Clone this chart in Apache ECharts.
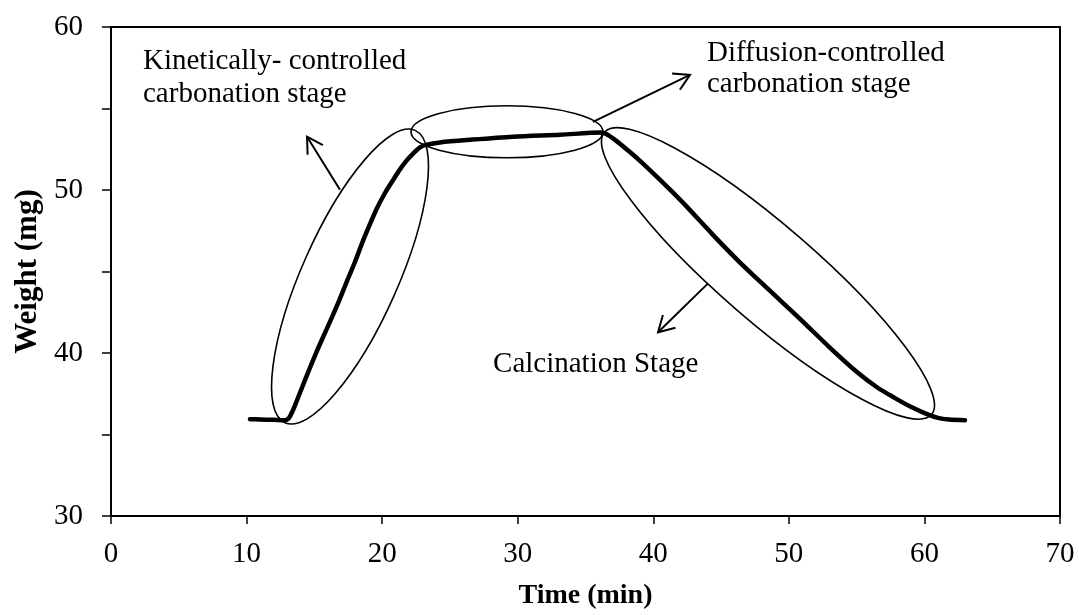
<!DOCTYPE html>
<html>
<head>
<meta charset="utf-8">
<script src="https://cdn.jsdelivr.net/npm/echarts@6/dist/echarts.min.js"></script>
<style>
  html, body { margin: 0; padding: 0; background: #fff; }
  #chart { width: 1079px; height: 615px; }
</style>
</head>
<body>
<div id="chart"></div>
<script>
// TGA run: sample weight during carbonation / calcination cycle
const timeMin = [10.25, 11.00, 12.00, 12.83, 13.10, 13.40, 13.72, 14.10, 14.53, 15.10,
                 15.71, 16.30, 16.82, 17.40, 18.00, 18.55, 19.10, 19.60, 20.20, 20.80,
                 21.30, 21.80, 22.30, 22.79, 23.30, 24.27, 26.48, 29.65, 33.12, 36.20,
                 36.70, 37.30, 38.10, 39.00, 40.00, 41.20, 42.50, 44.40, 46.40, 48.50,
                 50.82, 53.00, 55.00, 56.50, 57.80, 59.00, 60.19, 61.00, 61.80, 62.99];
const weightMg = [35.94, 35.92, 35.90, 35.88, 35.98, 36.45, 37.10, 37.90, 38.80, 39.95,
                  41.10, 42.20, 43.20, 44.40, 45.60, 46.80, 47.90, 48.85, 49.80, 50.60,
                  51.25, 51.80, 52.25, 52.62, 52.78, 52.92, 53.08, 53.27, 53.39, 53.52,
                  53.35, 53.00, 52.45, 51.80, 51.02, 50.05, 48.95, 47.25, 45.55, 43.90,
                  42.10, 40.35, 38.85, 37.90, 37.25, 36.70, 36.25, 36.02, 35.92, 35.88];

const xTicks = [0, 10, 20, 30, 40, 50, 60, 70];
const yLabels = [30, 40, 50, 60];

const SERIF = '"Liberation Serif", "Times New Roman", serif';

// stage outlines (centre in data units, radii in px, tilt in degrees)
const stageOvals = [
  { at: [17.63, 44.69], rx: 160, ry: 48, tilt: 66 },
  { at: [29.21, 53.57], rx: 96, ry: 26, tilt: 0 },
  { at: [48.46, 44.88], rx: 216, ry: 48, tilt: -40.8 }
];
// pointer arrows: tail -> tip, in data units
const stageArrows = [
  { from: [16.89, 50.02], to: [14.46, 53.27] },
  { from: [35.55, 54.18], to: [42.71, 57.06] },
  { from: [44.04, 44.27], to: [40.35, 41.27] }
];
// stage captions: left edge / vertical middle of each line, data units
const stageNotes = [
  { at: [2.36, 57.86], text: 'Kinetically- controlled' },
  { at: [2.36, 55.88], text: 'carbonation stage' },
  { at: [43.96, 58.41], text: 'Diffusion-controlled' },
  { at: [43.96, 56.45], text: 'carbonation stage' },
  { at: [28.18, 39.30], text: 'Calcination Stage' }
];

const chart = echarts.init(document.getElementById('chart'), null, { renderer: 'canvas' });

const option = {
  animation: false,
  backgroundColor: '#fff',
  grid: {
    left: 111, right: 19, top: 27, bottom: 98,
    show: true, borderColor: '#000', borderWidth: 2, backgroundColor: 'transparent'
  },
  xAxis: {
    type: 'value', min: xTicks[0], max: xTicks[xTicks.length - 1], interval: 10,
    name: 'Time (min)', nameLocation: 'middle', nameGap: 66,
    nameTextStyle: { fontFamily: SERIF, fontSize: 28, fontWeight: 'bold', color: '#000' },
    axisLine: { show: true, onZero: false, lineStyle: { color: '#000', width: 2 } },
    axisTick: { show: true, inside: false, length: 8, lineStyle: { color: '#000', width: 1.5 } },
    axisLabel: { margin: 24, fontFamily: SERIF, fontSize: 29, color: '#000' },
    splitLine: { show: false }
  },
  yAxis: {
    type: 'value', min: yLabels[0], max: yLabels[yLabels.length - 1], interval: 5,
    name: 'Weight (mg)', nameLocation: 'middle', nameGap: 68, nameRotate: 90,
    nameTextStyle: { fontFamily: SERIF, fontSize: 31, fontWeight: 'bold', color: '#000' },
    axisLine: { show: true, onZero: false, lineStyle: { color: '#000', width: 2 } },
    axisTick: { show: true, inside: false, length: 9, lineStyle: { color: '#000', width: 1.5 } },
    axisLabel: {
      margin: 28, fontFamily: SERIF, fontSize: 29, color: '#000',
      formatter: v => (yLabels.indexOf(v) >= 0 ? String(v) : '')
    },
    splitLine: { show: false }
  },
  series: [{
    type: 'line',
    data: timeMin.map((t, i) => [t, weightMg[i]]),
    smooth: 0.3,
    showSymbol: false,
    lineStyle: { color: '#000', width: 4.5, cap: 'round', join: 'round' },
    z: 5
  }]
};

chart.setOption(option);

function toPx(p) { return chart.convertToPixel({ gridIndex: 0 }, p); }

const graphics = [];
stageOvals.forEach(o => {
  const c = toPx(o.at);
  graphics.push({
    type: 'ellipse', x: c[0], y: c[1], rotation: o.tilt * Math.PI / 180,
    shape: { cx: 0, cy: 0, rx: o.rx, ry: o.ry },
    style: { fill: null, stroke: '#000', lineWidth: 1.6 }, z: 10
  });
});
stageArrows.forEach(a => {
  const p0 = toPx(a.from), p1 = toPx(a.to);
  const ang = Math.atan2(p0[1] - p1[1], p0[0] - p1[0]);
  const len = 18, spread = Math.PI / 6;
  const h1 = [p1[0] + len * Math.cos(ang + spread), p1[1] + len * Math.sin(ang + spread)];
  const h2 = [p1[0] + len * Math.cos(ang - spread), p1[1] + len * Math.sin(ang - spread)];
  graphics.push({
    type: 'polyline', shape: { points: [p0, p1] },
    style: { stroke: '#000', lineWidth: 2, fill: null }, z: 10
  });
  graphics.push({
    type: 'polyline', shape: { points: [h1, p1, h2] },
    style: { stroke: '#000', lineWidth: 2, fill: null, lineJoin: 'miter' }, z: 10
  });
});
stageNotes.forEach(n => {
  const p = toPx(n.at);
  graphics.push({
    type: 'text', x: p[0], y: p[1],
    style: { text: n.text, font: '29px ' + SERIF, fill: '#000', align: 'left', verticalAlign: 'middle' },
    z: 10
  });
});

chart.setOption({ graphic: graphics });
</script>
</body>
</html>
